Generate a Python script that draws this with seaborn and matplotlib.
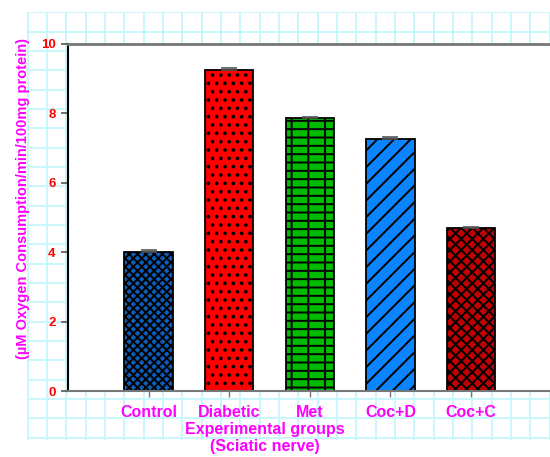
import numpy as np
import pandas as pd
import matplotlib
matplotlib.use("Agg")
import matplotlib.pyplot as plt
import seaborn as sns

groups = ["Control", "Diabetic", "Met", "Coc+D", "Coc+C"]
values = [4.02, 9.24, 7.86, 7.25, 4.69]
errors = [0.04, 0.07, 0.05, 0.06, 0.05]
colors = ["#0B5DBA", "#FF0000", "#00BB00", "#0A84FF", "#C00000"]
hatches = ["xxxx", "..", "-+", "//", "xxx"]
yticks = [0, 2, 4, 6, 8, 10]

sns.set_style("white")
plt.rcParams["font.family"] = ["Liberation Sans", "DejaVu Sans"]
plt.rcParams["hatch.linewidth"] = 1.4

W, H = 550, 457
fig = plt.figure(figsize=(W / 100, H / 100), dpi=100, facecolor="white")

# background grid paper
bg = fig.add_axes([27 / W, 17 / H, 523 / W, 428 / H], zorder=0)
bg.set_xlim(0, 523)
bg.set_ylim(428, 0)
step = 19.33
for xv in np.arange(0.7, 523, step):
    bg.axvline(xv, color="#c6f7fa", lw=1.3)
for yv in np.arange(0.3, 428, step):
    bg.axhline(yv, color="#c6f7fa", lw=1.3)
bg.axis("off")

ax = fig.add_axes([68 / W, 66 / H, 482 / W, 347 / H], zorder=1)
ax.set_facecolor("white")

df = pd.DataFrame({"group": groups, "value": values})
sns.barplot(data=df, x="group", y="value", hue="group", palette=colors,
            order=groups, hue_order=groups, errorbar=None, width=0.6,
            saturation=1, legend=False, ax=ax, edgecolor="black",
            linewidth=1.3)

for patch, h in zip(ax.patches, hatches):
    patch.set_hatch(h)
    patch.set_edgecolor("black")

ax.errorbar(range(len(groups)), values,
            yerr=[np.zeros(len(errors)), errors],
            fmt="none", ecolor="#555555", elinewidth=1, capsize=6,
            capthick=1.2, zorder=5)

ax.set_xlim(-1.0, 4.98)
ax.set_ylim(0, 10)
ax.set_yticks(yticks)
ax.set_yticklabels([str(t) for t in yticks])

ax.spines["right"].set_visible(False)
ax.spines["left"].set_color("black")
ax.spines["left"].set_linewidth(1.5)
ax.spines["top"].set_color("#777777")
ax.spines["top"].set_linewidth(2)
ax.spines["bottom"].set_color("#777777")
ax.spines["bottom"].set_linewidth(1.5)

ax.tick_params(axis="y", direction="out", length=5, width=1.2, color="#555555",
               labelcolor="#FF0000", labelsize=9.5, pad=4, left=True)
ax.tick_params(axis="x", direction="out", length=4, width=1, color="#777777",
               labelcolor="#FF00FF", labelsize=11.5, pad=6, bottom=True)
for lbl in ax.get_yticklabels() + ax.get_xticklabels():
    lbl.set_fontweight("bold")

ax.set_xlabel("Experimental groups\n(Sciatic nerve)", color="#FF00FF",
              fontsize=11.5, fontweight="bold", linespacing=1.15)
ax.xaxis.set_label_coords(0.409, -0.09)
ax.set_ylabel("(µM Oxygen Consumption/min/100mg protein)", color="#FF00FF",
              fontsize=10.5, fontweight="bold")
ax.yaxis.set_label_coords(-0.078, 0.555)

fig.savefig("out.png", dpi=100, facecolor="white")
